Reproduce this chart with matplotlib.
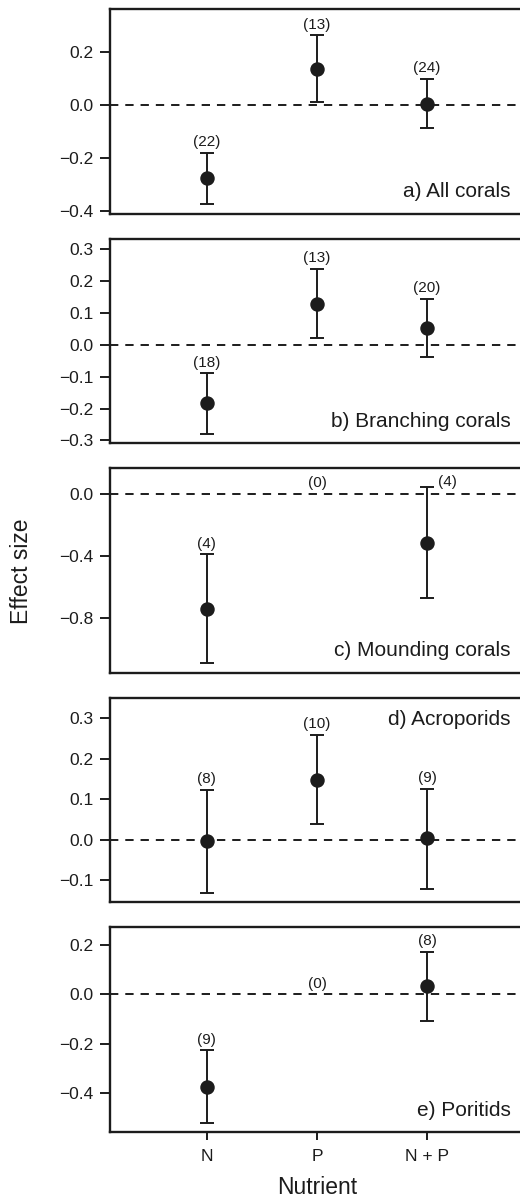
import numpy as np
import matplotlib
matplotlib.use("Agg")
import matplotlib.pyplot as plt
from matplotlib.ticker import FuncFormatter

plt.rcParams['font.family'] = ['Liberation Sans', 'DejaVu Sans']
plt.rcParams['lines.scale_dashes'] = False

nutrients = ['N', 'P', 'N + P']
panel_labels = ['a) All corals', 'b) Branching corals', 'c) Mounding corals',
                'd) Acroporids', 'e) Poritids']

# effect size, lower and upper CI, number of studies
mean_a = [-0.277, 0.136, 0.005]
lo_a = [-0.374, 0.011, -0.089]
hi_a = [-0.181, 0.262, 0.098]
n_a = [22, 13, 24]

mean_b = [-0.184, 0.130, 0.054]
lo_b = [-0.279, 0.021, -0.038]
hi_b = [-0.089, 0.240, 0.145]
n_b = [18, 13, 20]

mean_c = [-0.742, np.nan, -0.313]
lo_c = [-1.089, np.nan, -0.667]
hi_c = [-0.388, np.nan, 0.047]
n_c = [4, 0, 4]

mean_d = [-0.004, 0.148, 0.003]
lo_d = [-0.131, 0.039, -0.122]
hi_d = [0.123, 0.259, 0.126]
n_d = [8, 10, 9]

mean_e = [-0.373, np.nan, 0.033]
lo_e = [-0.518, np.nan, -0.108]
hi_e = [-0.226, np.nan, 0.172]
n_e = [9, 0, 8]

means = [mean_a, mean_b, mean_c, mean_d, mean_e]
lows = [lo_a, lo_b, lo_c, lo_d, lo_e]
highs = [hi_a, hi_b, hi_c, hi_d, hi_e]
counts = [n_a, n_b, n_c, n_d, n_e]

ylims = [(-0.411, 0.362), (-0.309, 0.334), (-1.149, 0.165), (-0.155, 0.35), (-0.556, 0.271)]
yticks = [[-0.4, -0.2, 0.0, 0.2],
          [-0.3, -0.2, -0.1, 0.0, 0.1, 0.2, 0.3],
          [-0.8, -0.4, 0.0],
          [-0.1, 0.0, 0.1, 0.2, 0.3],
          [-0.4, -0.2, 0.0, 0.2]]
label_top = [False, False, False, True, False]
beside = {(2, 2)}  # count label drawn to the right of the cap

col = '#1c1c1c'
fig, axes = plt.subplots(5, 1, figsize=(5.2, 11.99), dpi=100)
fig.subplots_adjust(left=110 / 520, right=524 / 520, top=1 - 9 / 1199,
                    bottom=1 - 1132 / 1199, hspace=0.122)

fmt = FuncFormatter(lambda v, p: '0.0' if abs(v) < 1e-9 else ('%.1f' % v).replace('-', '\u2212'))

x = np.arange(1, 4)
for i, ax in enumerate(axes):
    m = np.array(means[i])
    lo = np.array(lows[i])
    hi = np.array(highs[i])
    ax.axhline(0, color=col, lw=1.4, ls=(0, (6, 5)), zorder=1)
    ax.errorbar(x, m, yerr=[m - lo, hi - m], fmt='o', color=col, ms=9.4,
                elinewidth=1.4, capsize=5.2, capthick=1.4, zorder=3)
    for j in range(3):
        if counts[i][j] == 0:
            ax.annotate('(0)', xy=(x[j], 0), xytext=(0, 2.5), textcoords='offset points',
                        ha='center', va='bottom', fontsize=11, color=col)
        elif (i, j) in beside:
            ax.annotate('(%d)' % counts[i][j], xy=(x[j], hi[j]), xytext=(8, 3),
                        textcoords='offset points', ha='left', va='center',
                        fontsize=11, color=col)
        else:
            ax.annotate('(%d)' % counts[i][j], xy=(x[j], hi[j]), xytext=(0, 2.5),
                        textcoords='offset points', ha='center', va='bottom',
                        fontsize=11, color=col)
    if label_top[i]:
        ax.annotate(panel_labels[i], xy=(1, 1), xycoords='axes fraction',
                    xytext=(-9.5, -8.6), textcoords='offset points',
                    ha='right', va='top', fontsize=15, color=col)
    else:
        ax.annotate(panel_labels[i], xy=(1, 0), xycoords='axes fraction',
                    xytext=(-9.5, 9), textcoords='offset points',
                    ha='right', va='bottom', fontsize=15, color=col)
    ax.set_xlim(0.12, 3.88)
    ax.set_ylim(*ylims[i])
    ax.set_yticks(yticks[i])
    ax.yaxis.set_major_formatter(fmt)
    ax.tick_params(axis='y', direction='out', length=7, width=1.4, labelsize=12.5,
                   color=col, labelcolor=col, pad=5)
    for s in ax.spines.values():
        s.set_linewidth(1.7)
        s.set_color(col)
    if i < 4:
        ax.set_xticks([])
    else:
        ax.set_xticks(x)
        ax.set_xticklabels(nutrients)
        ax.tick_params(axis='x', direction='out', length=6, width=1.4, labelsize=12.5,
                       color=col, labelcolor=col, pad=6)
        ax.set_xlabel('Nutrient', fontsize=16.5, color=col, labelpad=9)

fig.text(22 / 520, 1 - 571 / 1199, 'Effect size', rotation=90, ha='center',
         va='center', fontsize=16.5, color=col)

fig.savefig('out.png', dpi=100)
